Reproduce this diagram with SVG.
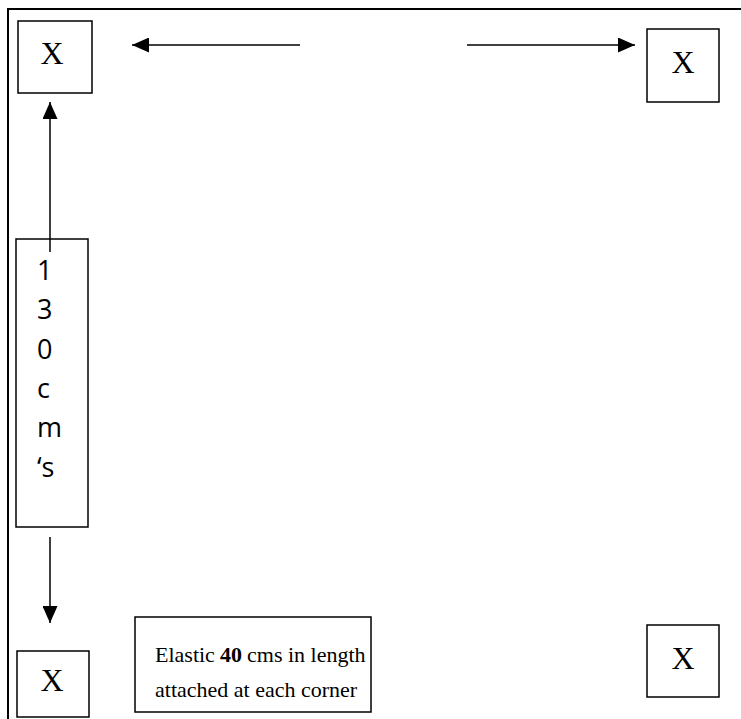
<svg xmlns="http://www.w3.org/2000/svg" width="741" height="719" viewBox="0 0 741 719">
  <style>
    .frame { fill: none; stroke: #000; stroke-width: 2; }
    .box { fill: #fff; stroke: #000; stroke-width: 1.5; }
    .mark { font-family: "Liberation Serif", "Times New Roman", serif; font-size: 32px; fill: #000; text-anchor: middle; }
    .note { font-family: "Liberation Serif", "Times New Roman", serif; font-size: 22px; fill: #000; }
    .bold { font-weight: bold; }
    .vert { font-family: "Open Sans", "Liberation Sans", sans-serif; font-size: 27px; fill: #000; }
    .conn { stroke: #000; stroke-width: 1.5; fill: none; marker-end: url(#head); }
  </style>
  <defs>
    <marker id="head" markerUnits="userSpaceOnUse" markerWidth="17" markerHeight="15" refX="17" refY="7.5" orient="auto">
      <path d="M0,0 L17,7.5 L0,15 z" fill="#000"/>
    </marker>
  </defs>
  <rect width="741" height="719" fill="#fff"/>

  <!-- outer frame, running off the right and bottom edges -->
  <rect class="frame" x="8" y="9" width="740" height="720"/>

  <!-- corner markers -->
  <g id="corner-tl">
    <rect class="box" x="18" y="21" width="74" height="72"/>
    <text class="mark" x="52" y="64">X</text>
  </g>
  <g id="corner-tr">
    <rect class="box" x="647" y="29" width="72" height="73"/>
    <text class="mark" x="683" y="73">X</text>
  </g>
  <g id="corner-bl">
    <rect class="box" x="17" y="651" width="72" height="66"/>
    <text class="mark" x="52" y="691">X</text>
  </g>
  <g id="corner-br">
    <rect class="box" x="647" y="625" width="72" height="72"/>
    <text class="mark" x="683" y="669">X</text>
  </g>

  <!-- vertical length label -->
  <g id="length-label">
    <rect class="box" x="16" y="239" width="72" height="288"/>
    <text class="vert" x="37">
      <tspan x="37" y="280">1</tspan>
      <tspan x="37" y="319">3</tspan>
      <tspan x="37" y="359">0</tspan>
      <tspan x="37" y="398">c</tspan>
      <tspan x="37" y="437">m</tspan>
      <tspan x="37" y="477">&#8216;s</tspan>
    </text>
  </g>

  <!-- elastic note -->
  <g id="elastic-note">
    <rect class="box" x="135" y="617" width="236" height="95"/>
    <text class="note" x="155" y="662">Elastic</text>
    <text class="note bold" x="220" y="662">40</text>
    <text class="note" x="247" y="662">cms in length</text>
    <text class="note" x="155" y="697">attached at each corner</text>
  </g>

  <!-- connectors -->
  <g id="connectors">
    <line class="conn" x1="300" y1="45" x2="132" y2="45"/>
    <line class="conn" x1="467" y1="45" x2="635" y2="45"/>
    <line class="conn" x1="50" y1="252" x2="50" y2="102"/>
    <line class="conn" x1="50" y1="537" x2="50" y2="623"/>
  </g>
</svg>
